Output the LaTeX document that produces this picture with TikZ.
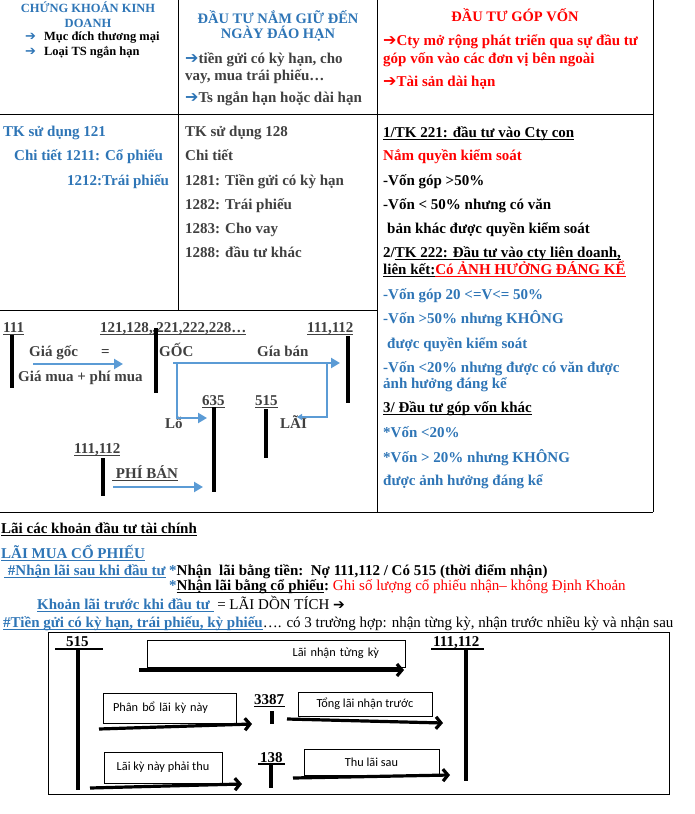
\documentclass[tikz,border=0pt]{standalone}
\usepackage{fontspec}
\setmainfont{Liberation Serif}
\newfontfamily\calibri{Carlito}
\newfontfamily\dejavu{DejaVu Sans}
\usetikzlibrary{arrows.meta,shadows}

\definecolor{hblue}{RGB}{46,117,182}
\definecolor{tblue}{RGB}{91,155,213}
\definecolor{dgray}{RGB}{64,64,64}
\definecolor{hred}{RGB}{255,0,0}

\newcommand\fsz[1]{\fontsize{#1}{#1}\selectfont}
\newcommand\undl[1]{\setbox0\hbox{#1}\rlap{\vrule height -1.6pt depth 2.6pt width \wd0}\box0}
\newcommand\rarr{{\dejavu\fsz{16}➔}}

\begin{document}
\begin{tikzpicture}[x=1pt,y=-1pt,
    every node/.style={inner sep=0pt, anchor=base west},
    txt/.style={font=\fsz{15}\bfseries},
    btxt/.style={font=\fsz{15}\bfseries},
    hdr/.style={font=\fsz{14.5}\bfseries, anchor=base},
    grid/.style={line width=1pt},
    tbar/.style={line width=3.5pt},
    barr/.style={tblue, line width=2.6pt, -{Triangle[length=9pt,width=10pt]}},
    lbox/.style={draw, line width=0.6pt, fill=white, anchor=center, align=center,
      font=\fsz{12.3}\calibri,
      drop shadow={shadow xshift=1.2pt, shadow yshift=-1.4pt, opacity=1, fill=black!60}},
    karr/.style={line width=3.2pt, -{Straight Barb[length=5pt,width=12pt]}}
  ]
    \useasboundingbox (0,0) rectangle (695,814);

    % ── Table lines ──
    \draw[grid] (0,114) -- (653,114);
    \draw[grid] (0,310) -- (377,310);
    \draw[grid] (0,512) -- (653,512);
    \draw[grid] (178,0) -- (178,310);
    \draw[grid] (377,0) -- (377,512);
    \draw[grid] (653,0) -- (653,512);

    % ── Header row ──
    \node[hdr, font=\fsz{12.5}\bfseries, text=hblue] (ckkd) at (88,12) {CHỨNG KHOÁN KINH};
    \node[hdr, font=\fsz{12.5}\bfseries, text=hblue] (ckkd2) at (88,27) {DOANH};
    \node[font=\fsz{12.5}\bfseries] (mucdich) at (25,40) {\textcolor{hblue}{\dejavu\fsz{13}➔}\hspace{8pt}Mục đích thương mại};
    \node[font=\fsz{12.5}\bfseries] (loaits) at (25,55) {\textcolor{hblue}{\dejavu\fsz{13}➔}\hspace{8pt}Loại TS ngắn hạn};

    \node[hdr, text=hblue] (namgiu) at (278,23) {ĐẦU TƯ NẮM GIỮ ĐẾN};
    \node[hdr, text=hblue] (namgiu2) at (278,38) {NGÀY ĐÁO HẠN};
    \node[txt, text=dgray] (tiengui) at (185,63) {\textcolor{hblue}{\rarr}tiền gửi có kỳ hạn, cho};
    \node[txt, text=dgray] (vaymua) at (185,80) {vay, mua trái phiếu…};
    \node[txt, text=dgray] (tsngan) at (185,102) {\textcolor{hblue}{\rarr}Ts ngắn hạn hoặc dài hạn};

    \node[hdr, text=hred] (gopvon) at (515,21) {ĐẦU TƯ GÓP VỐN};
    \node[txt, text=hred] (ctymr) at (383,45) {\rarr Cty mở rộng phát triển qua sự đầu tư};
    \node[txt, text=hred] (ctymr2) at (383,63) {góp vốn vào các đơn vị bên ngoài};
    \node[txt, text=hred] (tsdai) at (383,86) {\rarr Tài sản dài hạn};

    % ── Accounts row ──
    \node[txt, text=hblue] (tk121) at (3,136) {TK sử dụng 121};
    \node[txt, text=hblue] (ct1211) at (14,160) {Chi tiết 1211: Cổ phiếu};
    \node[txt, text=hblue] (ct1212) at (67,185) {1212:Trái phiếu};

    \node[txt, text=dgray] (tk128) at (185,136) {TK sử dụng 128};
    \node[txt, text=dgray] (ct128) at (185,160) {Chi tiết};
    \node[txt, text=dgray] (ct1281) at (185,185) {1281: Tiền gửi có kỳ hạn};
    \node[txt, text=dgray] (ct1282) at (185,209) {1282: Trái phiếu};
    \node[txt, text=dgray] (ct1283) at (185,233) {1283: Cho vay};
    \node[txt, text=dgray] (ct1288) at (185,257) {1288: đầu tư khác};

    \node[txt] (tk221) at (383,137) {\undl{1/TK 221: đầu tư vào Cty con}};
    \node[txt, text=hred] (namqks) at (383,160) {Nắm quyền kiểm soát};
    \node[txt] (vg50) at (383,185) {-Vốn góp >50\%};
    \node[txt] (vn50) at (383,209) {-Vốn < 50\% nhưng có văn};
    \node[txt] (bankhac) at (387,233) {bản khác được quyền kiểm soát};
    \node[txt] (tk222) at (383,257) {2/\undl{TK 222: Đầu tư vào cty liên doanh,}};
    \node[txt] (lienket) at (383,274) {\undl{liên kết:}\textcolor{hred}{\undl{Có ẢNH HƯỞNG ĐÁNG KỂ}}};
    \node[txt, text=hblue] (vg20) at (383,299) {-Vốn góp 20 <=V<= 50\%};
    \node[txt, text=hblue] (vkhong) at (383,323) {-Vốn >50\% nhưng KHÔNG};
    \node[txt, text=hblue] (dqks) at (387,348) {được quyền kiểm soát};
    \node[txt, text=hblue] (vn20) at (383,372) {-Vốn <20\% nhưng được có văn được};
    \node[txt, text=hblue] (ahdk) at (383,388) {ảnh hưởng đáng kể};
    \node[txt] (tkkhac) at (383,412) {\undl{3/ Đầu tư góp vốn khác}};
    \node[txt, text=hblue] (v20a) at (383,437) {*Vốn <20\%};
    \node[txt, text=hblue] (v20b) at (383,462) {*Vốn > 20\% nhưng KHÔNG};
    \node[txt, text=hblue] (dahdk) at (383,485) {được ảnh hưởng đáng kể};

    % ── T-accounts ──
    \node[txt, text=dgray] (ta111) at (3,332) {\undl{111}};
    \draw[tbar] (12,335) -- (12,388);
    \node[txt, text=dgray] (giagoc) at (29,356) {Giá gốc};
    \node[txt, text=dgray] (bang) at (101,356) {=};
    \node[txt, text=dgray] (giamua) at (18,381) {Giá mua + phí mua};
    \node[txt, text=dgray] (ta121) at (100,332) {\undl{121,128,,221,222,228…}};
    \draw[tbar] (156,328) -- (156,393);
    \node[txt, text=dgray] (goc) at (159,356) {GỐC};
    \node[txt, text=dgray] (giaban) at (257,356) {Gía bán};
    \node[txt, text=dgray] (ta111b) at (307,332) {\undl{111,112}};
    \draw[tbar] (348,336) -- (348,403);
    \node[txt, text=dgray] (ta635) at (202,405) {\undl{635}};
    \draw[tbar] (214,407) -- (214,492);
    \node[txt, text=dgray] (ta515) at (255,405) {\undl{515}};
    \draw[tbar] (266,409) -- (266,458);
    \node[txt, text=dgray] (lo) at (165,428) {Lỗ};
    \node[txt, text=dgray] (lai) at (280,428) {LÃI};
    \node[txt, text=dgray] (ta111c) at (74,453) {\undl{111,112}};
    \draw[tbar] (103,458) -- (103,496);
    \node[txt, text=dgray] (phiban) at (112,478) {\undl{\ PHÍ BÁN}};

    \coordinate (goc1) at (33,364);   \coordinate (goc2) at (123,364);
    \coordinate (ban1) at (173,363);  \coordinate (ban2) at (340,363);
    \coordinate (lo1) at (177,363);   \coordinate (lo2) at (207,418);
    \coordinate (lai1) at (327,363);  \coordinate (lai2) at (297,417);
    \coordinate (phi1) at (113,487);  \coordinate (phi2) at (203,487);
    \draw[barr] (goc1) -- (goc2);
    \draw[barr] (ban1) -- (ban2);
    \draw[barr] (lo1) |- (lo2);
    \draw[barr, -{Triangle[length=5pt,width=6pt]}] (lai1) |- (lai2);
    \draw[barr] (phi1) -- (phi2);

    % ── Interest section ──
    \node[btxt] (laicac) at (1,533) {\undl{Lãi các khoản đầu tư tài chính}};
    \node[btxt, text=hblue] (laimua) at (1,558) {\undl{LÃI MUA CỔ PHIẾU}};
    \node[btxt, text=hblue] (nhansau) at (4,575) {\undl{\ \#Nhận lãi sau khi đầu tư}};
    \node[btxt] (nhantien) at (169,575) {\textcolor{hblue}{*}Nhận\ \ lãi bằng tiền:\ \ Nợ 111,112 / Có 515 (thời điểm nhận)};
    \node[btxt] (nhancp) at (169,590) {\textcolor{hblue}{*}\undl{Nhận lãi bằng cổ phiếu}:\textcolor{hred}{\mdseries\ Ghi số lượng cổ phiếu nhận– không Định Khoản}};
    \node[btxt, text=hblue] (khoanlai) at (37,609) {\undl{Khoản lãi trước khi đầu tư\ }\textcolor{black}{\mdseries\ = LÃI DỒN TÍCH {\dejavu\fsz{14}➔}}};
    \node[btxt, text=hblue] (tiengui2) at (3,627) {\undl{\#Tiền gửi có kỳ hạn, trái phiếu, kỳ phiếu}\textcolor{black}{\mdseries…. có 3 trường hợp: nhận từng kỳ, nhận trước nhiều kỳ và nhận sau}};

    % ── Deposit interest box ──
    \draw[line width=0.8pt] (48,632) rectangle (669,794);
    \node[txt] (k515) at (66,646) {515};
    \draw[line width=2.2pt] (55,649) -- (103,649);
    \draw[tbar] (78,649) -- (78,790);
    \node[txt] (k111) at (433,646) {111,112};
    \draw[line width=2.2pt] (431,649) -- (484,649);
    \draw[tbar] (466,649) -- (466,781);
    \node[txt] (k3387) at (254,704) {3387};
    \draw[line width=1.6pt] (254,706.5) -- (285,706.5);
    \draw[tbar] (272,711) -- (272,724);
    \node[txt] (k138) at (260,762) {138};
    \draw[line width=2pt] (258,764) -- (285,764);
    \draw[tbar] (271,764) -- (271,788);

    \node[lbox, minimum width=258pt, minimum height=27pt, text width=206pt, align=right, inner xsep=26pt] (tungky) at (276,653.5) {Lãi nhận từng kỳ};
    \node[lbox, minimum width=133pt, minimum height=30pt, text width=113pt, align=left, inner xsep=10pt] (phanbo) at (169.5,708) {Phân bổ lãi kỳ này};
    \node[lbox, minimum width=134pt, minimum height=24pt] (tonglai) at (365,704) {Tổng lãi nhận trước};
    \node[lbox, minimum width=118pt, minimum height=31pt] (phaithu) at (163,767.5) {Lãi kỳ này phải thu};
    \node[lbox, minimum width=135pt, minimum height=26pt] (thusau) at (371.5,762) {Thu lãi sau};

    \coordinate (tk1) at (139,670);  \coordinate (tk2) at (404,670);
    \coordinate (pb1) at (99,729);   \coordinate (pb2) at (252,724);
    \coordinate (tl1) at (287,719);  \coordinate (tl2) at (443,723);
    \coordinate (pt1) at (90,788);   \coordinate (pt2) at (242,784);
    \coordinate (ts1) at (293,778);  \coordinate (ts2) at (450,775);
    \draw[karr] (tk1) -- (tk2);
    \draw[karr] (pb1) -- (pb2);
    \draw[karr] (tl1) -- (tl2);
    \draw[karr] (pt1) -- (pt2);
    \draw[karr] (ts1) -- (ts2);
  \end{tikzpicture}
\end{document}
